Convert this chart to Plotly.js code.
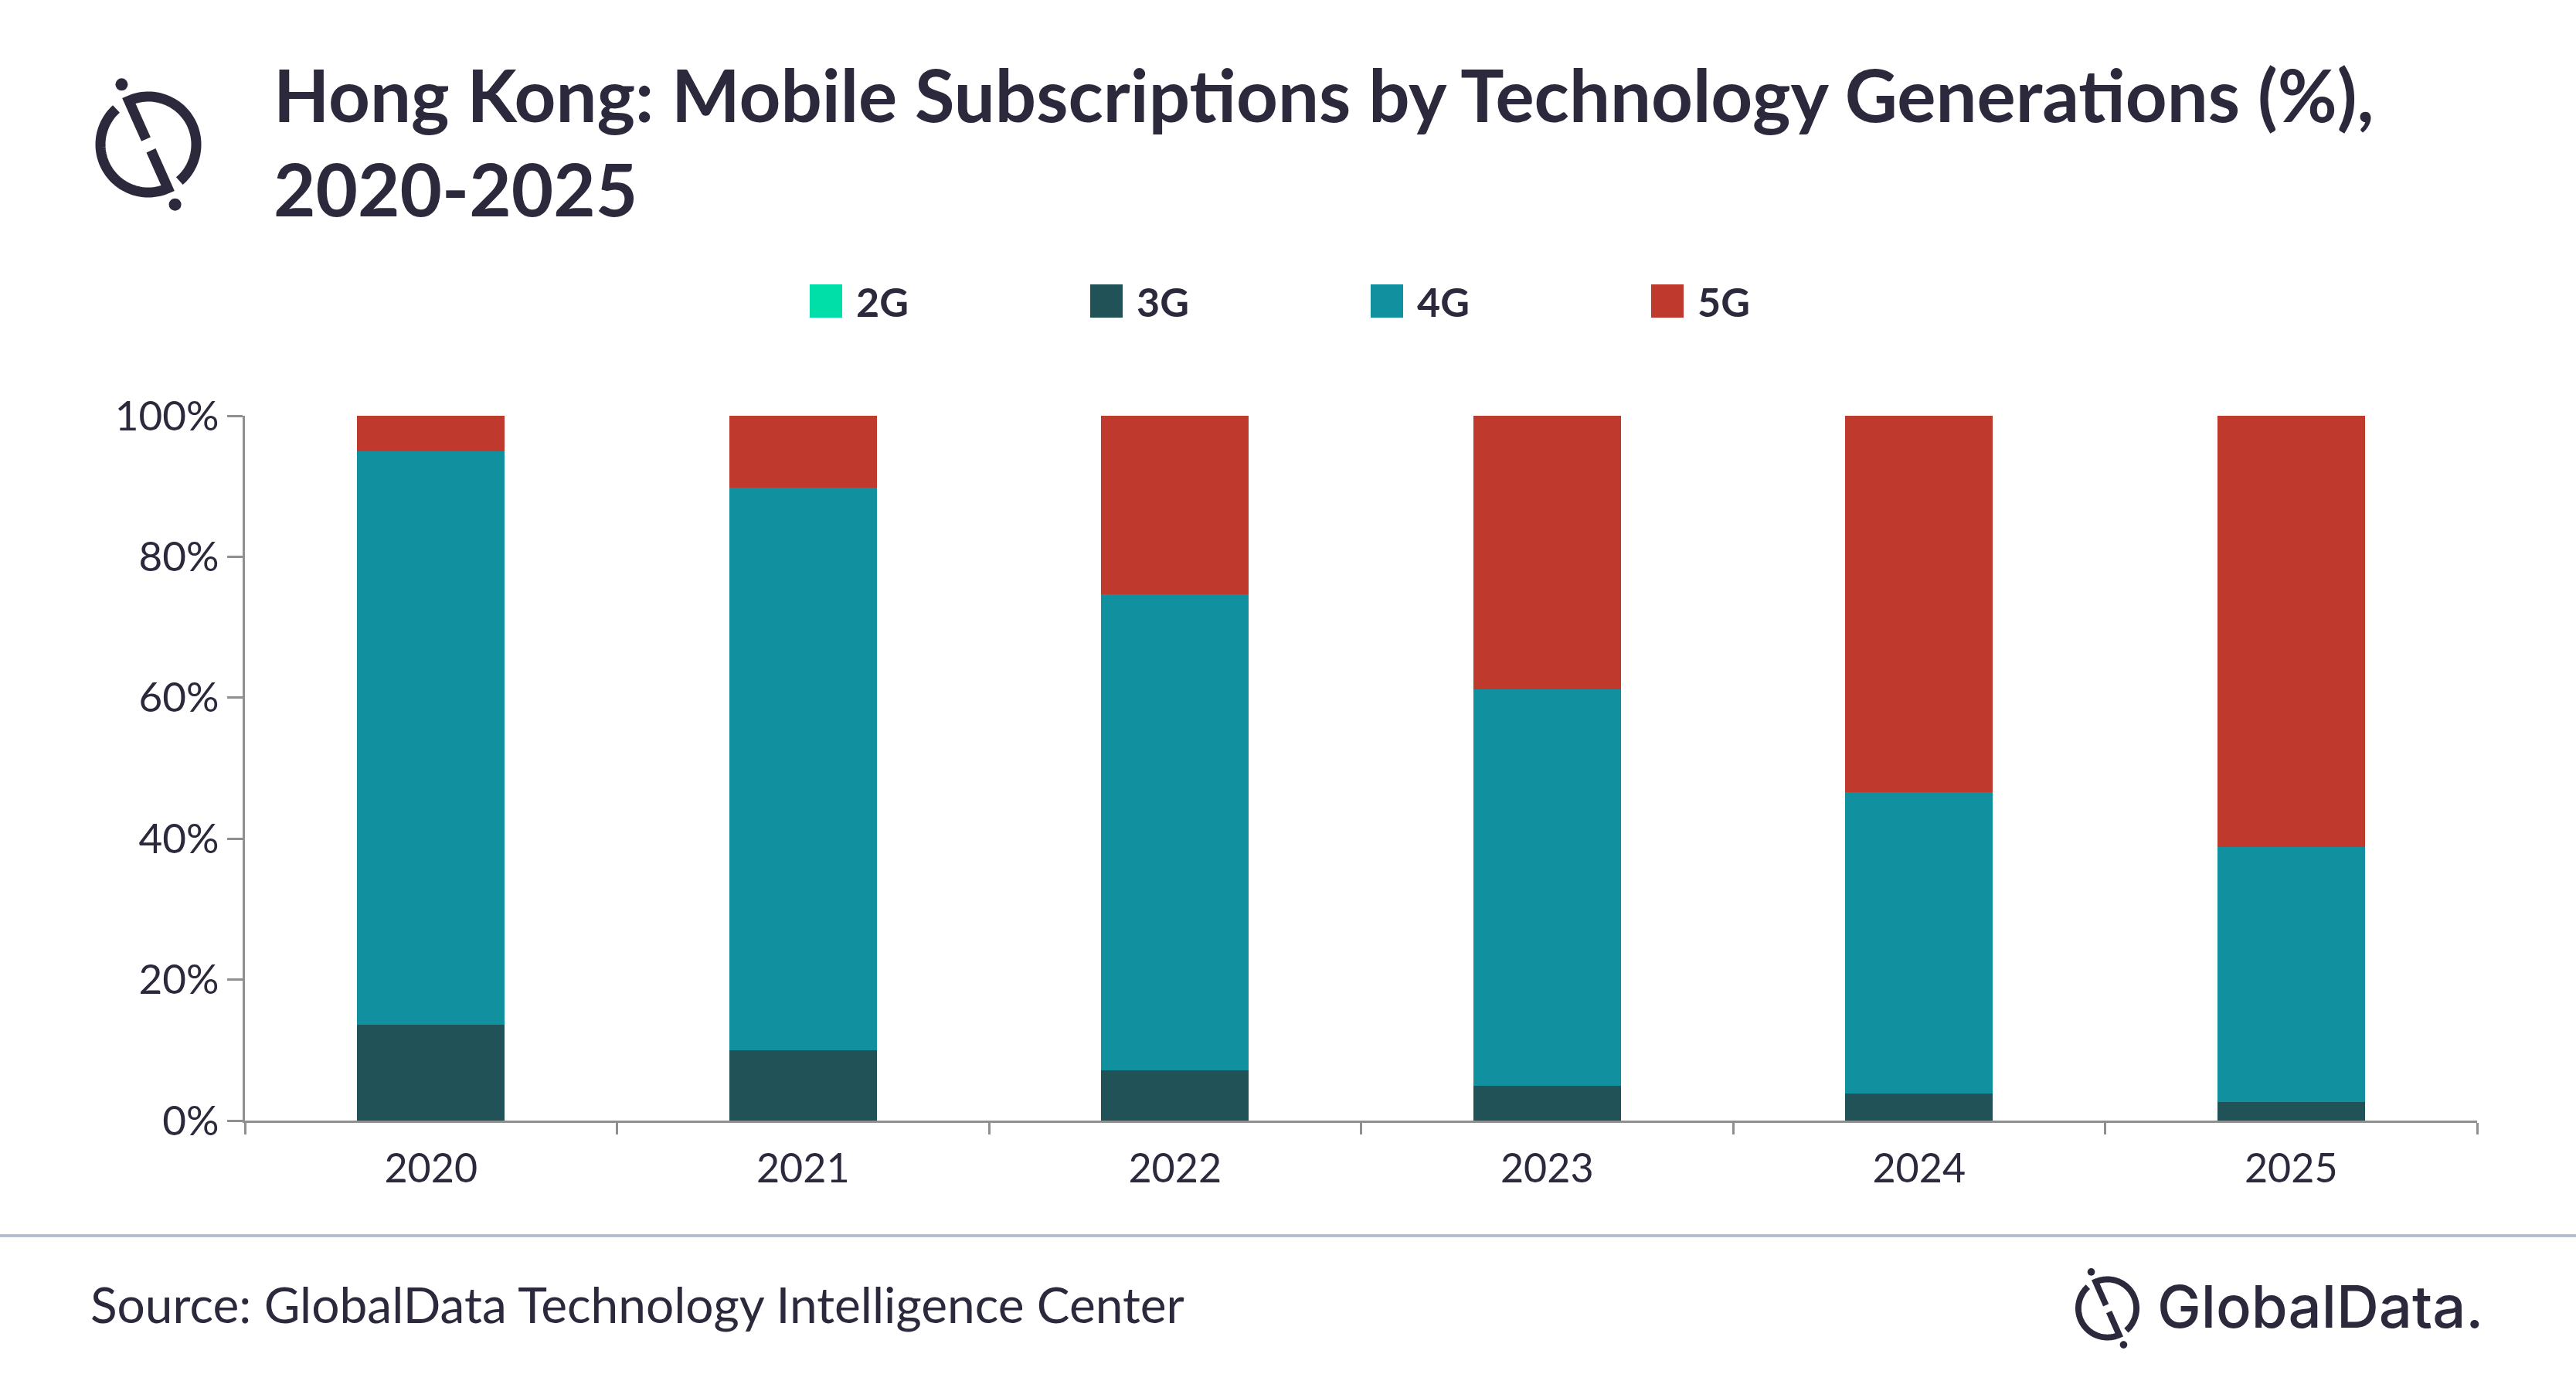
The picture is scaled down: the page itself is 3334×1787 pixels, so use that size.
<!DOCTYPE html>
<html><head><meta charset="utf-8">
<script src="https://cdn.plot.ly/plotly-3.0.1.min.js"></script>
<style>html,body{margin:0;padding:0;background:#fff;}#chart{width:3334px;height:1787px;}</style>
</head><body><div id="chart"></div>
<script>
// ---- data ----
const years = ['2020', '2021', '2022', '2023', '2024', '2025'];
const seriesNames = ['2G', '3G', '4G', '5G'];
const share2G = [0, 0, 0, 0, 0, 0];
const share3G = [13.6, 10.0, 7.1, 4.9, 3.8, 2.6];
const share4G = [81.4, 79.8, 67.6, 56.3, 42.8, 36.2];
const share5G = [5.0, 10.2, 25.3, 38.8, 53.4, 61.2];
const yTickVals = [0, 20, 40, 60, 80, 100];
const yTickText = ['0%', '20%', '40%', '60%', '80%', '100%'];
const titleText = 'Hong Kong: Mobile Subscriptions by Technology Generations (%),<br>2020-2025';
const sourceText = 'Source: GlobalData Technology Intelligence Center';
const brandText = 'GlobalData.';

// ---- style ----
const colors = ['#00dfa8', '#215257', '#1190a0', '#c0392d'];
const ink = '#2d293d';
const axisGray = '#8f8f8f';
const W = 3334, H = 1787, L = 317, R = 3206, T = 538, B = 1450;
const px2x = p => (p - L) / (R - L);
const px2y = p => (B - p) / (B - T);

const seriesValues = [share2G, share3G, share4G, share5G];
const traces = seriesNames.map((n, i) => ({
  type: 'bar', name: n, x: years, y: seriesValues[i],
  marker: {color: colors[i], line: {width: 0}},
  showlegend: false, hoverinfo: 'skip'
}));

// logo drawing (decoration)
function logoShapes(cx, cy, s) {
  const r = 62 * s, sw = 13 * s;
  const d = [Math.cos(66 * Math.PI / 180), Math.sin(66 * Math.PI / 180)];
  const pt = (x, y) => px2x(x).toFixed(6) + ',' + px2y(y).toFixed(6);
  const ring = a => [cx + r * Math.cos(a * Math.PI / 180), cy + r * Math.sin(a * Math.PI / 180)];
  function arcPath(startInner, a0, a1) {
    let p = 'M' + pt(cx + d[0] * startInner * s, cy + d[1] * startInner * s);
    const n = 60;
    for (let k = 0; k <= n; k++) {
      const q = ring(a0 + (a1 - a0) * k / n);
      p += ' L' + pt(q[0], q[1]);
    }
    return p;
  }
  const shp = [];
  shp.push({type: 'path', xref: 'paper', yref: 'paper', path: arcPath(-7.5, -114, 49.5),
    line: {color: ink, width: sw}, fillcolor: 'rgba(0,0,0,0)'});
  shp.push({type: 'path', xref: 'paper', yref: 'paper', path: arcPath(8.5, 66, 228),
    line: {color: ink, width: sw}, fillcolor: 'rgba(0,0,0,0)'});
  const dr = 8 * s;
  [-85, 85].forEach(t => {
    const x = cx + d[0] * t * s, y = cy + d[1] * t * s;
    shp.push({type: 'circle', xref: 'paper', yref: 'paper',
      x0: px2x(x - dr), x1: px2x(x + dr), y0: px2y(y + dr), y1: px2y(y - dr),
      fillcolor: ink, line: {width: 0}});
  });
  return shp;
}

const shapes = [];
// custom legend swatches
seriesNames.forEach((n, i) => {
  shapes.push({type: 'rect', xref: 'paper', yref: 'paper',
    x0: px2x(1048 + 363 * i), x1: px2x(1090 + 363 * i), y0: px2y(411), y1: px2y(368),
    fillcolor: colors[i], line: {width: 0}});
});
// separator
shapes.push({type: 'line', xref: 'paper', yref: 'paper', x0: px2x(0), x1: px2x(W), y0: px2y(1599), y1: px2y(1599),
  line: {color: '#b4bece', width: 4}});
logoShapes(192, 187, 1).forEach(s => shapes.push(s));
logoShapes(2727.5, 1693, 0.606).forEach(s => shapes.push(s));

const annotations = seriesNames.map((n, i) => ({
  xref: 'paper', yref: 'paper', x: px2x(1106 + 363 * i), y: px2y(390), xanchor: 'left', yanchor: 'middle',
  text: n, showarrow: false, font: {family: 'Lato, sans-serif', size: 52, weight: 700, color: ink}
}));
annotations.push({xref: 'paper', yref: 'paper', x: px2x(115), y: px2y(1688), xanchor: 'left', yanchor: 'middle',
  text: sourceText, showarrow: false, font: {family: 'Lato, sans-serif', size: 64, color: ink}});
annotations.push({xref: 'paper', yref: 'paper', x: px2x(2790), y: px2y(1690), xanchor: 'left', yanchor: 'middle',
  text: brandText, showarrow: false, font: {family: 'Inter, sans-serif', size: 76, weight: 500, color: ink}});

const layout = {
  width: W, height: H,
  margin: {l: L, r: W - R, t: T, b: H - B, pad: 0},
  paper_bgcolor: '#ffffff', plot_bgcolor: '#ffffff',
  barmode: 'stack', bargap: 0.603,
  showlegend: false,
  title: {text: titleText, x: 354 / W, xref: 'container', xanchor: 'left',
    y: 1 - 158 / H, yref: 'container', yanchor: 'top',
    font: {family: 'Lato, sans-serif', size: 94, weight: 700, color: ink}},
  xaxis: {type: 'category', showline: true, linecolor: axisGray, linewidth: 3,
    ticks: 'outside', tickson: 'boundaries', ticklen: 15, tickwidth: 3, tickcolor: axisGray,
    ticklabelstandoff: 15,
    showgrid: false, zeroline: false, fixedrange: true,
    tickfont: {family: 'Lato, sans-serif', size: 52, color: ink}},
  yaxis: {range: [0, 100], tickvals: yTickVals, ticktext: yTickText,
    showline: true, linecolor: axisGray, linewidth: 3,
    ticks: 'outside', ticklen: 20, tickwidth: 3, tickcolor: axisGray,
    showgrid: false, zeroline: false, fixedrange: true,
    tickfont: {family: 'Lato, sans-serif', size: 53, color: ink}},
  shapes: shapes,
  annotations: annotations
};
Plotly.newPlot('chart', traces, layout, {staticPlot: true, displayModeBar: false});
</script>
</body></html>
